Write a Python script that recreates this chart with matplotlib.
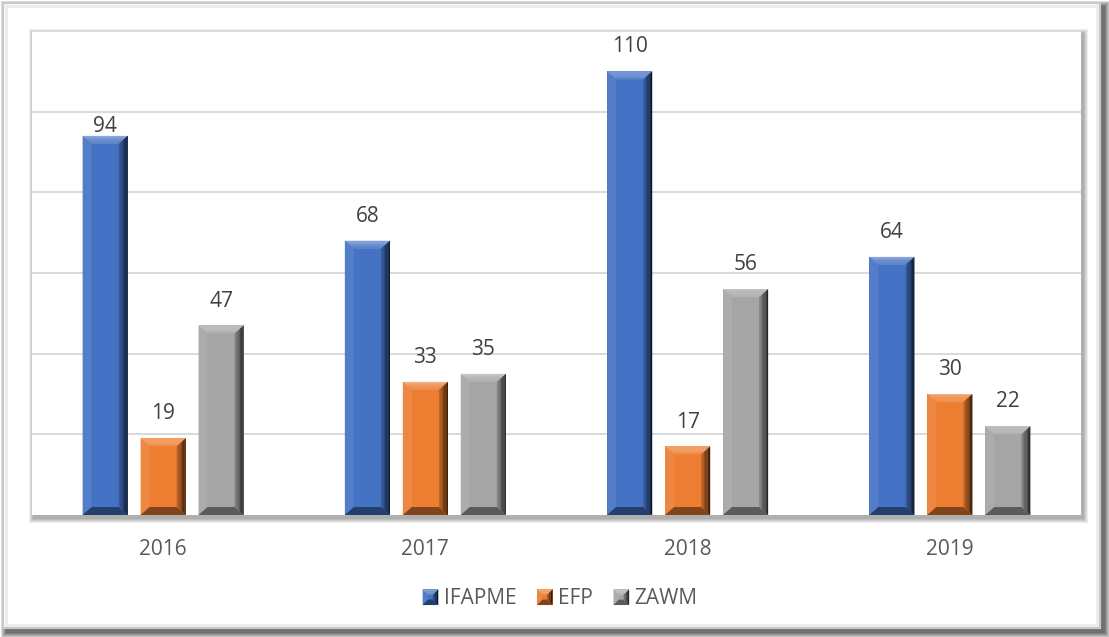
"""Grouped bar chart, Excel-style bevelled bars: IFAPME / EFP / ZAWM, 2016-2019."""

import matplotlib.pyplot as plt
import numpy as np
from matplotlib.colors import to_rgb
from matplotlib.legend_handler import HandlerBase
from matplotlib.patches import Polygon, Rectangle

years = ["2016", "2017", "2018", "2019"]
series = ["IFAPME", "EFP", "ZAWM"]
ifapme = [94, 68, 110, 64]
efp = [19, 33, 17, 30]
zawm = [47, 35, 56, 22]
colors = ["#4472C4", "#ED7D31", "#A5A5A5"]

plt.rcParams["font.family"] = ["Open Sans", "DejaVu Sans"]

W, H = 1109, 637
PL, PR, PT, PB = 32, 1081, 31, 515  # plot area in pixels
YMAX = 120
SX = (PR - PL) / 4.0
SY = (PB - PT) / YMAX

fig = plt.figure(figsize=(W / 100, H / 100), dpi=100)

# pixel-space background for the frame and the shadows
bg = fig.add_axes([0, 0, 1, 1], zorder=0)
bg.set_xlim(0, W)
bg.set_ylim(H, 0)
bg.axis("off")


def soft_shadow(ax, x0, y0, x1, y1, dx, dy, steps, alpha):
    for i in range(steps):
        g = steps - i
        ax.add_patch(Rectangle((x0 + dx - g, y0 + dy - g), x1 - x0 + 2 * g,
                               y1 - y0 + 2 * g, facecolor="black",
                               alpha=alpha / steps, lw=0))


soft_shadow(bg, 3, 3, 1100, 628, 4, 4, 6, 0.75)
bg.add_patch(Rectangle((3, 3), 1097, 625, facecolor="white",
                       edgecolor="#c8c8c8", lw=1.6))
bg.add_patch(Rectangle((6, 6), 1091, 619, facecolor="none",
                       edgecolor="#ececec", lw=2.0))
soft_shadow(bg, PL, PT, PR, PB, 2, 3, 5, 0.35)

ax = fig.add_axes([PL / W, 1 - PB / H, (PR - PL) / W, (PB - PT) / H], zorder=1)
ax.set_facecolor("white")
for s in ax.spines.values():
    s.set_visible(False)
ax.set_xlim(-0.5, 3.5)
ax.set_ylim(0, YMAX)
ax.set_yticks(np.arange(20, YMAX + 1, 20))
ax.yaxis.grid(True, color="#d9d9d9", lw=1.4)
ax.set_axisbelow(True)
ax.tick_params(axis="y", left=False, labelleft=False)
ax.tick_params(axis="x", length=0, pad=17, labelsize=15, labelcolor="#595959")

x = np.arange(len(years))
offsets = [-0.221, 0.0, 0.221]
width = 0.172
# the 2016 IFAPME label sits right on its bar in the original
label_nudge = {(0, 0): -11}


def bevel_polys(x0, y0, x1, y1, bx, by, c, n=7):
    c = np.array(to_rgb(c))
    left = c + (1 - c) * 0.08
    bottom = c * 0.55
    out = []
    out.append(([(x0, y0), (x0 + bx, y0 + by), (x0 + bx, y1 - by), (x0, y1)], left))
    out.append(([(x0, y0), (x1, y0), (x1 - bx, y0 + by), (x0 + bx, y0 + by)], bottom))
    r = by / bx
    # top bevel: lighter towards the inner edge
    for k in range(n):
        ha = by * (n - k) / n
        hb = by * (n - k - 1) / n
        f = 0.12 + 0.25 * (k + 1) / n
        out.append(([(x0 + ha / r, y1 - ha), (x1 - ha / r, y1 - ha),
                     (x1 - hb / r, y1 - hb), (x0 + hb / r, y1 - hb)], c + (1 - c) * f))
    # right bevel: darker towards the outer edge
    for k in range(n):
        da = bx * (n - k) / n
        db = bx * (n - k - 1) / n
        f = 0.9 - 0.68 * (k + 1) / n
        out.append(([(x1 - da, y0 + da * r), (x1 - db, y0 + db * r),
                     (x1 - db, y1 - db * r), (x1 - da, y1 - da * r)], c * f))
    return out


for j, (vals, off, col) in enumerate(zip([ifapme, efp, zawm], offsets, colors)):
    bars = ax.bar(x + off, vals, width, color=col, lw=0, zorder=2)
    for i, (b, v) in enumerate(zip(bars, vals)):
        x0 = b.get_x()
        x1 = x0 + b.get_width()
        for pts, fc in bevel_polys(x0, 0, x1, b.get_height(), 9 / SX, 8 / SY, col):
            ax.add_patch(Polygon(pts, closed=True, facecolor=fc, lw=0, zorder=3))
        ax.annotate(f"{v}", (b.get_x() + b.get_width() / 2, v),
                    xytext=(0, 10 + label_nudge.get((j, i), 0)),
                    textcoords="offset points", ha="center",
                    va="bottom", fontsize=15, color="#404040")

ax.set_xticks(x)
ax.set_xticklabels(years)


class BevelHandler(HandlerBase):
    def create_artists(self, legend, orig_handle, xdescent, ydescent, width,
                       height, fontsize, trans):
        s = min(width, height * 1.1)
        x0, y0 = -xdescent + (width - s) / 2, -ydescent + (height - s) / 2
        arts = [Rectangle((x0, y0), s, s, facecolor=orig_handle.get_facecolor(),
                          lw=0, transform=trans)]
        for pts, fc in bevel_polys(x0, y0, x0 + s, y0 + s, s * 0.35, s * 0.35,
                                   orig_handle.get_facecolor(), n=3):
            arts.append(Polygon(pts, closed=True, facecolor=fc, lw=0,
                                transform=trans))
        return arts


handles = [Rectangle((0, 0), 1, 1, facecolor=c) for c in colors]
leg = fig.legend(handles, series, loc="center", bbox_to_anchor=(560 / W, 1 - 599 / H),
                 ncol=3, frameon=False, fontsize=15, handlelength=0.75,
                 handleheight=0.75, handletextpad=0.25, columnspacing=1.0,
                 handler_map={Rectangle: BevelHandler()})
for t in leg.get_texts():
    t.set_color("#595959")

fig.savefig("out.png", dpi=100)
